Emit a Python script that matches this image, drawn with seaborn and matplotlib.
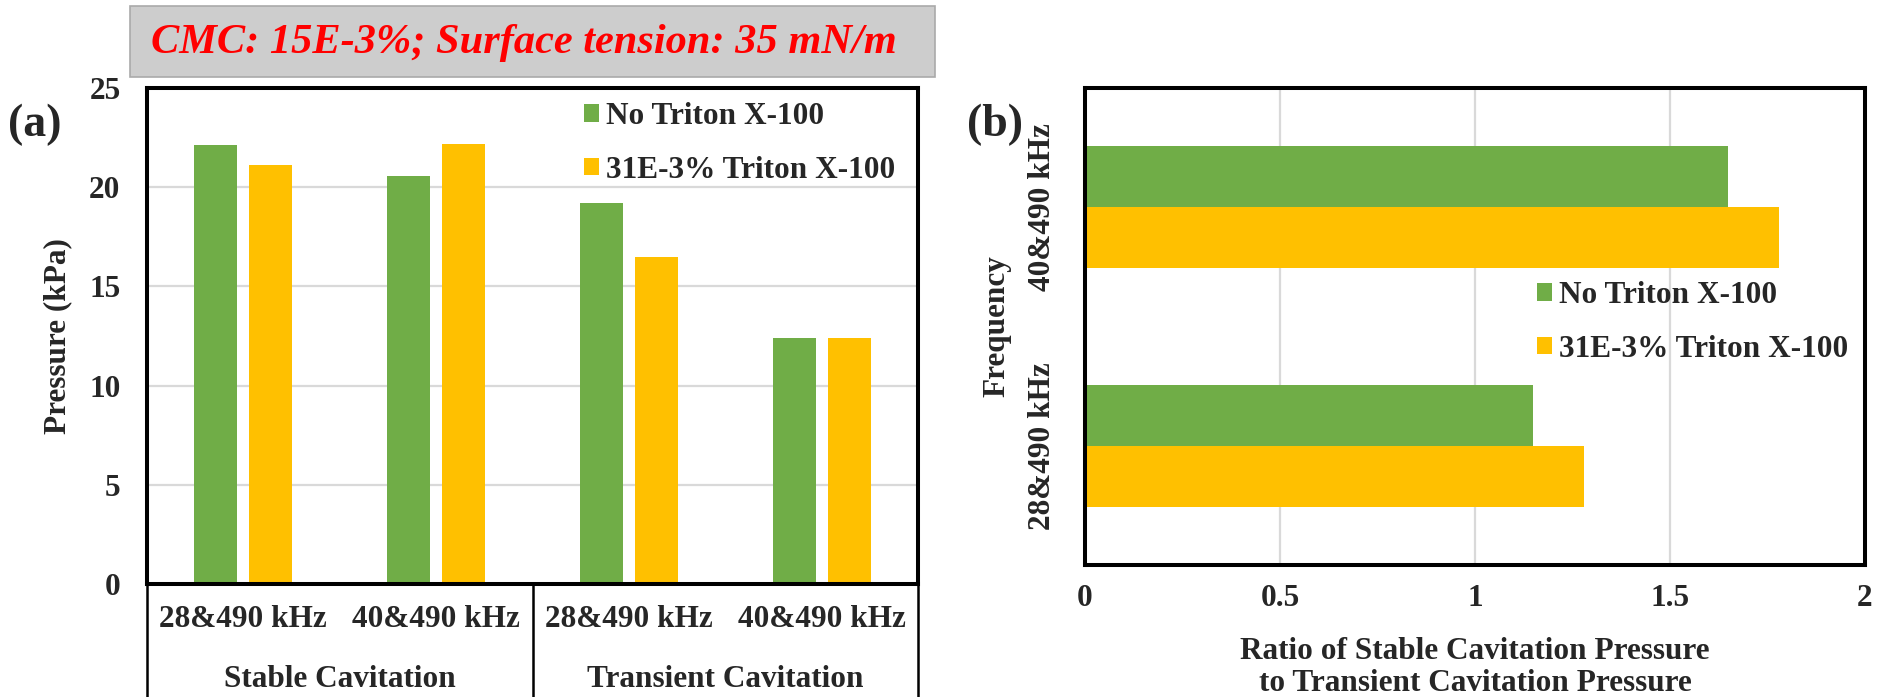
import matplotlib
matplotlib.use("Agg")
import matplotlib.pyplot as plt
from matplotlib.patches import Rectangle
import seaborn as sns
import pandas as pd

# ---- data -------------------------------------------------------------
cavitation_types = ["Stable Cavitation", "Transient Cavitation"]
frequencies = ["28&490 kHz", "40&490 kHz"]
series_names = ["No Triton X-100", "31E-3% Triton X-100"]

# pressure (kPa): stable 28, stable 40, transient 28, transient 40
pressure_no_triton = [22.15, 20.55, 19.2, 12.4]
pressure_triton = [21.1, 22.2, 16.5, 12.4]

# ratio stable / transient pressure
ratio_freqs = ["40&490 kHz", "28&490 kHz"]
ratio_no_triton = [1.65, 1.15]
ratio_triton = [1.78, 1.28]

title_text = "CMC: 15E-3%; Surface tension: 35 mN/m"

colors = ["#70AD47", "#FFC000"]
grid_color = "#D9D9D9"

# ---- tidy tables --------------------------------------------------------
keys = [f"{c}|{f}" for c in cavitation_types for f in frequencies]
tick_labels = [f for c in cavitation_types for f in frequencies]
left_df = pd.DataFrame({
    "key": keys * 2,
    "value": pressure_no_triton + pressure_triton,
    "series": [series_names[0]] * 4 + [series_names[1]] * 4,
})
right_df = pd.DataFrame({
    "freq": ratio_freqs * 2,
    "value": ratio_no_triton + ratio_triton,
    "series": [series_names[0]] * 2 + [series_names[1]] * 2,
})

# ---- style ---------------------------------------------------------------
sns.set_style("white")
plt.rcParams["font.family"] = ["Liberation Serif", "DejaVu Serif"]
plt.rcParams["font.weight"] = "bold"
plt.rcParams["axes.labelweight"] = "bold"
FS = 22.5

W, H = 1883, 697
fig = plt.figure(figsize=(W / 100, H / 100), dpi=100)


def fx(px):
    return px / W


def fy(py):
    return 1 - py / H


axL = fig.add_axes([fx(147), fy(584), fx(918) - fx(147), fy(88) - fy(584)])
axR = fig.add_axes([fx(1085), fy(565), fx(1865) - fx(1085), fy(88) - fy(565)])

# ---- (a) grouped vertical bars -------------------------------------------
sns.barplot(data=left_df, x="key", y="value", hue="series", order=keys,
            hue_order=series_names, palette=colors, saturation=1,
            width=0.57, gap=0.22, linewidth=0, ax=axL)
axL.set_xlim(-0.5, 3.5)
axL.set_ylim(0, 25)
axL.set_yticks([0, 5, 10, 15, 20, 25])
axL.set_xticks(range(4))
axL.set_xticklabels(tick_labels)
axL.yaxis.grid(True, color=grid_color, lw=1.6)
axL.set_axisbelow(True)
axL.tick_params(axis="both", length=0, labelsize=FS)
axL.tick_params(axis="x", pad=15)
axL.tick_params(axis="y", pad=19)
axL.set_xlabel("")
axL.set_ylabel("Pressure (kPa)", fontsize=FS, fontweight="bold")
axL.yaxis.set_label_coords(-0.097, 0.5)

# category divider lines below the axis
xt = axL.get_xaxis_transform()
for xd in (-0.5, 1.5, 3.5):
    axL.plot([xd, xd], [0, -0.25], transform=xt, color="black", lw=1.8,
             clip_on=False, solid_capstyle="butt")
for i, name in enumerate(cavitation_types):
    axL.text(2 * i + 0.5, -0.1935, name, transform=xt, ha="center",
             va="center", fontsize=FS, fontweight="bold")

# ---- (b) horizontal ratio bars -------------------------------------------
sns.barplot(data=right_df, x="value", y="freq", hue="series", order=ratio_freqs,
            hue_order=series_names, palette=colors, saturation=1,
            width=0.512, gap=0, linewidth=0, orient="h", ax=axR)
axR.set_xlim(0, 2)
axR.set_xticks([0, 0.5, 1, 1.5, 2])
axR.set_xticklabels(["0", "0.5", "1", "1.5", "2"])
axR.xaxis.grid(True, color=grid_color, lw=1.6)
axR.set_axisbelow(True)
axR.tick_params(axis="both", length=0, labelsize=FS)
axR.tick_params(axis="x", pad=14)
axR.tick_params(axis="y", pad=20)
for lab in axR.get_yticklabels():
    lab.set_rotation(90)
    lab.set_va("center")
axR.set_xlabel("Ratio of Stable Cavitation Pressure\nto Transient Cavitation Pressure",
               fontsize=FS, fontweight="bold", linespacing=1.15, labelpad=17)
axR.set_ylabel("Frequency", fontsize=FS, fontweight="bold")
axR.yaxis.set_label_coords(-0.094, 0.5)

# ---- frames, legends -------------------------------------------------------
for ax in (axL, axR):
    for sp in ax.spines.values():
        sp.set_visible(True)
        sp.set_color("black")
        sp.set_linewidth(2.9)

for ax, anchor in ((axL, (fx(578), fy(96))), (axR, (fx(1531), fy(275)))):
    old = ax.get_legend()
    handles = old.legend_handles
    labels = [t.get_text() for t in old.get_texts()]
    old.remove()
    ax.legend(handles, labels, loc="upper left", bbox_to_anchor=anchor,
              bbox_transform=fig.transFigure, frameon=False, fontsize=FS,
              handlelength=0.48, handleheight=0.48, handletextpad=0.22,
              labelspacing=0.78, borderpad=0.2, borderaxespad=0)

# ---- panel letters and condition banner -----------------------------------
fig.text(fx(35), fy(125), "(a)", fontsize=33, fontweight="bold",
         ha="center", va="center")
fig.text(fx(995), fy(125), "(b)", fontsize=33, fontweight="bold",
         ha="center", va="center")

fig.patches.append(Rectangle((fx(130), fy(77)), fx(935) - fx(130), fy(6) - fy(77),
                             transform=fig.transFigure, facecolor="#CDCDCD",
                             edgecolor="#AAAAAA", lw=1.2, zorder=0))
fig.text(fx(524), fy(43), title_text, fontsize=30.5, fontweight="bold",
         style="italic", color="#FF0000", ha="center", va="center")

fig.savefig("out.png", dpi=100)
